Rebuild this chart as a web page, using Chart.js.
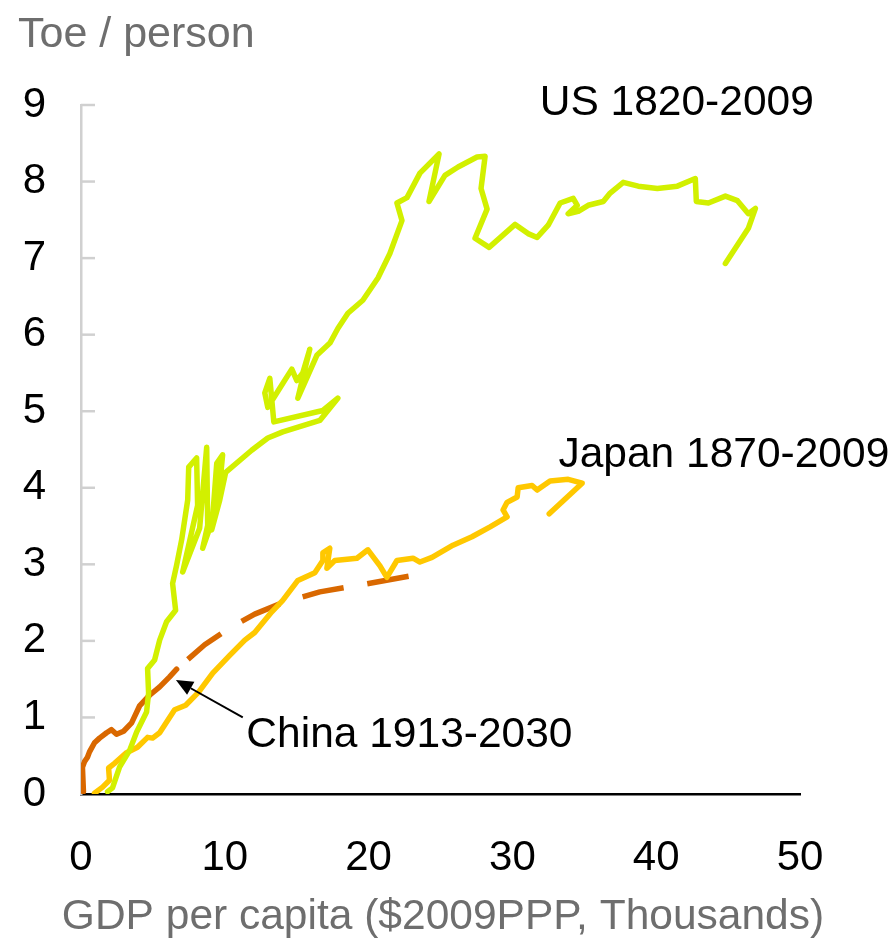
<!DOCTYPE html>
<html>
<head>
<meta charset="utf-8">
<script src="https://cdn.jsdelivr.net/npm/chart.js@4.4.1/dist/chart.umd.min.js"></script>
<style>
  html, body { margin: 0; padding: 0; background: #fff; }
  #wrap { width: 894px; height: 944px; }
</style>
</head>
<body>
<div id="wrap"><canvas id="chart" width="894" height="944"></canvas></div>
<script>
// GDP per capita (thousand $2009 PPP) against energy use (toe per person)
const usGdp = [1.85, 2.19, 2.68, 3.38, 3.87, 4.56, 4.70, 4.63, 5.12, 5.47, 5.95, 6.58, 6.37, 6.65,
  7.00, 7.42, 7.49, 8.04, 8.11, 7.07, 8.25, 8.74, 8.81, 8.46, 9.51, 9.85, 9.44, 9.09, 9.65, 10.06,
  11.87, 12.99, 14.03, 16.61, 17.86, 16.82, 13.41, 13.13, 12.78, 12.99, 13.82, 14.66, 15.01, 15.42,
  15.91, 15.08, 16.40, 17.31, 17.86, 18.56, 19.60, 20.65, 21.48, 22.32, 21.97, 22.67, 23.57, 24.90,
  24.20, 25.31, 26.22, 27.54, 28.10, 27.82, 28.24, 27.40, 28.38, 30.19, 31.09, 31.72, 32.49, 33.32,
  34.23, 34.51, 33.88, 34.58, 35.27, 36.32, 36.80, 37.71, 38.75, 40.08, 41.47, 42.72, 42.79, 43.63,
  44.81, 45.65, 46.41, 46.90, 46.41, 44.81];
const usToe = [0.03, 0.08, 0.35, 0.57, 0.81, 1.07, 1.32, 1.64, 1.75, 2.01, 2.25, 2.40, 2.75, 2.99,
  3.32, 3.84, 4.27, 4.39, 3.77, 2.90, 3.47, 4.53, 3.51, 3.21, 3.77, 4.43, 4.32, 3.45, 3.84, 4.20,
  4.49, 4.65, 4.73, 4.88, 5.17, 5.01, 4.86, 5.43, 5.24, 5.05, 5.30, 5.55, 5.40, 5.50,
  5.81, 5.17, 5.73, 5.89, 6.08, 6.28, 6.45, 6.74, 7.06, 7.49, 7.72, 7.79, 8.11, 8.36,
  7.74, 8.08, 8.19, 8.32, 8.33, 7.91, 7.64, 7.26, 7.14, 7.44, 7.32, 7.27, 7.43, 7.72,
  7.78, 7.69, 7.58, 7.61, 7.69, 7.74, 7.85, 7.99, 7.94, 7.91, 7.94, 8.04, 7.74, 7.72,
  7.81, 7.75, 7.58, 7.65, 7.39, 6.93];

const japanGdp = [0.94, 1.50, 1.98, 1.92, 2.33, 3.17, 3.93, 4.63, 4.98, 5.47, 6.51, 7.28, 8.18, 9.16,
  10.34, 11.39, 12.08, 13.27, 14.03, 15.08, 16.26, 16.82, 16.82, 17.30, 17.10, 17.65, 19.19, 19.95,
  20.79, 21.27, 21.97, 23.09, 23.57, 24.41, 25.87, 27.19, 28.45, 29.63, 29.35, 29.63, 30.33, 30.40,
  31.37, 31.72, 32.62, 33.88, 34.85, 32.56];
const japanToe = [0.01, 0.09, 0.18, 0.34, 0.40, 0.54, 0.61, 0.74, 0.73, 0.80, 1.10, 1.16, 1.33, 1.58,
  1.81, 2.01, 2.11, 2.38, 2.53, 2.79, 2.89, 3.05, 3.15, 3.21, 2.95, 3.05, 3.08, 3.19,
  2.98, 2.83, 3.05, 3.08, 3.03, 3.09, 3.25, 3.36, 3.49, 3.62, 3.71, 3.81, 3.88, 4.00,
  4.03, 3.97, 4.09, 4.11, 4.06, 3.66];

const chinaGdp = [0.17, 0.10, 0.24, 0.45, 0.59, 0.94, 1.29, 1.78, 2.12, 2.47, 2.96, 3.52, 4.07, 4.77, 5.47, 6.16, 6.65];
const chinaToe = [0.03, 0.35, 0.42, 0.48, 0.55, 0.67, 0.73, 0.80, 0.84, 0.78, 0.82, 0.93, 1.15, 1.29, 1.40, 1.53, 1.63];

// China projection to 2030
const chinaProjGdp = [6.65, 8.60, 10.34, 12.08, 14.17, 16.61, 19.39, 22.95];
const chinaProjToe = [1.63, 1.95, 2.17, 2.35, 2.51, 2.64, 2.73, 2.85];

const xTickValues = [0, 10, 20, 30, 40, 50];
const yTickValues = [0, 1, 2, 3, 4, 5, 6, 7, 8, 9];
const xAxisTitle = "GDP per capita ($2009PPP, Thousands)";

const notes = [
  { text: "US 1820-2009", x: 31.9, y: 9.02 },
  { text: "Japan 1870-2009", x: 33.2, y: 4.43 },
  { text: "China 1913-2030", x: 11.5, y: 0.77 }
];
const chinaArrow = { fromX: 11.25, fromY: 1.0, toX: 6.6, toY: 1.49 };

function toPoints(xs, ys) {
  return xs.map((x, i) => ({ x: x, y: ys[i] }));
}

Chart.defaults.font.family = '"Liberation Sans", Arial, sans-serif';
Chart.defaults.font.size = 42;
Chart.defaults.color = "#000";

// short grey ticks pointing into the plot from the y axis
const innerTicks = {
  id: "innerTicks",
  beforeDatasetsDraw(chart) {
    let { ctx, chartArea, scales } = chart;
    ctx.save();
    ctx.strokeStyle = "#d0d0d0";
    ctx.lineWidth = 2.5;
    yTickValues.forEach(v => {
      if (v === 0) return;
      let py = scales.y.getPixelForValue(v);
      ctx.beginPath();
      ctx.moveTo(chartArea.left, py);
      ctx.lineTo(chartArea.left + 14, py);
      ctx.stroke();
    });
    ctx.restore();
  }
};

// series labels, the x axis title (wider than the plot) and the arrow to China
const labelsPlugin = {
  id: "labelsPlugin",
  afterDraw(chart) {
    let { ctx, scales, chartArea } = chart;
    ctx.save();
    ctx.font = '42.5px "Liberation Sans", Arial, sans-serif';
    ctx.textBaseline = "middle";

    ctx.fillStyle = "#6e6e6e";
    ctx.textAlign = "center";
    ctx.fillText(xAxisTitle, (chartArea.left + chartArea.right) / 2 + 2.5, scales.x.bottom - 27);

    ctx.fillStyle = "#000";
    ctx.textAlign = "left";
    notes.forEach(n => {
      ctx.fillText(n.text, scales.x.getPixelForValue(n.x), scales.y.getPixelForValue(n.y));
    });

    let x1 = scales.x.getPixelForValue(chinaArrow.fromX);
    let y1 = scales.y.getPixelForValue(chinaArrow.fromY);
    let x2 = scales.x.getPixelForValue(chinaArrow.toX);
    let y2 = scales.y.getPixelForValue(chinaArrow.toY);
    let ang = Math.atan2(y2 - y1, x2 - x1);
    let headLen = 17, headHalf = 7.5;
    let bx = x2 - headLen * Math.cos(ang);
    let by = y2 - headLen * Math.sin(ang);
    ctx.strokeStyle = "#000";
    ctx.lineWidth = 2;
    ctx.beginPath();
    ctx.moveTo(x1, y1);
    ctx.lineTo(bx, by);
    ctx.stroke();
    ctx.beginPath();
    ctx.moveTo(x2, y2);
    ctx.lineTo(bx + headHalf * Math.sin(ang), by - headHalf * Math.cos(ang));
    ctx.lineTo(bx - headHalf * Math.sin(ang), by + headHalf * Math.cos(ang));
    ctx.closePath();
    ctx.fill();
    ctx.restore();
  }
};

new Chart(document.getElementById("chart").getContext("2d"), {
  type: "scatter",
  data: {
    datasets: [
      { label: "US 1820-2009", data: toPoints(usGdp, usToe), borderColor: "#d2f000" },
      { label: "Japan 1870-2009", data: toPoints(japanGdp, japanToe), borderColor: "#ffc800" },
      { label: "China 1913-2009", data: toPoints(chinaGdp, chinaToe), borderColor: "#d96800" },
      { label: "China 2010-2030", data: toPoints(chinaProjGdp, chinaProjToe), borderColor: "#d96800",
        borderDash: [42, 24], borderDashOffset: 51, borderCapStyle: "butt" }
    ].map(d => Object.assign({
      showLine: true,
      pointRadius: 0,
      borderWidth: 5.5,
      borderJoinStyle: "round",
      borderCapStyle: "round",
      tension: 0
    }, d))
  },
  options: {
    responsive: false,
    animation: false,
    layout: { padding: { left: 18, right: 94, top: 0, bottom: 0 } },
    scales: {
      x: {
        type: "linear",
        min: 0,
        max: 50,
        afterBuildTicks: s => { s.ticks = xTickValues.map(v => ({ value: v })); },
        afterFit: s => { s.height = 150; },
        grid: { display: false, drawTicks: false },
        border: { display: true, color: "#000", width: 2.5 },
        ticks: { padding: 39, maxRotation: 0, color: "#000" },
        title: { display: false }
      },
      y: {
        type: "linear",
        min: 0,
        max: 9,
        afterBuildTicks: s => { s.ticks = yTickValues.map(v => ({ value: v })); },
        afterFit: s => { s.width = 63; },
        grid: { display: false, drawTicks: false },
        border: { display: true, color: "#d0d0d0", width: 2.5 },
        ticks: { padding: 35, color: "#000" }
      }
    },
    plugins: {
      legend: { display: false },
      tooltip: { enabled: false },
      title: {
        display: true,
        text: "Toe / person",
        align: "start",
        color: "#6e6e6e",
        font: { size: 43, weight: "normal" },
        padding: { top: 9, bottom: 44.4 }
      }
    }
  },
  plugins: [innerTicks, labelsPlugin]
});
</script>
</body>
</html>
